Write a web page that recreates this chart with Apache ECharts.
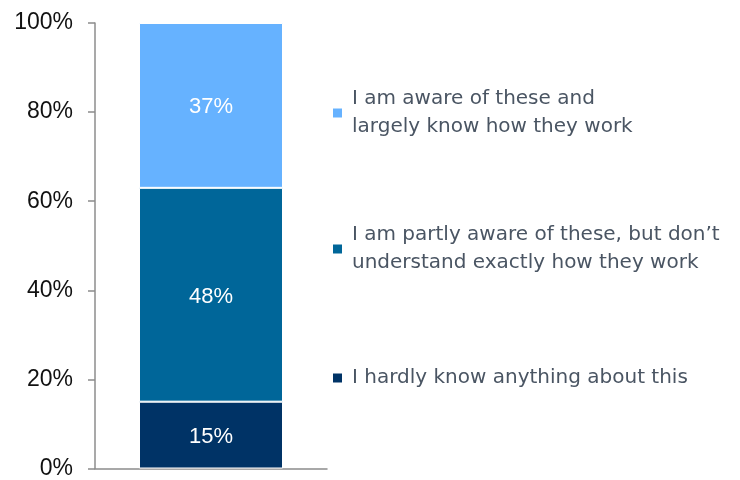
<!DOCTYPE html>
<html><head><meta charset="utf-8">
<script src="https://cdn.jsdelivr.net/npm/echarts@6/dist/echarts.min.js"></script>
<style>html,body{margin:0;padding:0;background:#fff}#c{width:740px;height:480px}</style>
</head><body><div id="c"></div>
<script>
const categories = [''];
const seriesNames = [
  'I hardly know anything about this',
  'I am partly aware of these, but don\u2019t\nunderstand exactly how they work',
  'I am aware of these and\nlargely know how they work'
];
const hardlyValues = [15];
const partlyValues = [48];
const awareValues = [37];
const colors = ['#003366', '#006699', '#66B2FF'];
const yTicks = [0, 20, 40, 60, 80, 100];

const chart = echarts.init(document.getElementById('c'));
const valueSets = [hardlyValues, partlyValues, awareValues];
const legendTops = [364, 221, 85];
chart.setOption({
  animation: false,
  grid: { left: 95, top: 23, width: 232, bottom: 10 },
  xAxis: {
    type: 'category', data: categories,
    axisLine: { lineStyle: { color: '#8c8c8c', width: 1.5 } },
    axisTick: { show: false }, axisLabel: { show: false }
  },
  yAxis: {
    type: 'value', min: 0, max: 100, interval: 20,
    axisLine: { show: true, lineStyle: { color: '#8c8c8c', width: 1.5 } },
    axisTick: { show: true, length: 7, lineStyle: { color: '#8c8c8c', width: 1.5 } },
    splitLine: { show: false },
    axisLabel: { formatter: v => yTicks.includes(v) ? v + '%' : '', color: '#111', fontSize: 23, fontFamily: 'Liberation Sans', margin: 22 }
  },
  legend: seriesNames.map((n, i) => ({
    data: [n], left: 333, top: legendTops[i], orient: 'vertical', padding: 0,
    icon: 'rect', itemWidth: 9, itemHeight: 9, itemGap: 0,
    itemStyle: { borderWidth: 0 },
    textStyle: { color: '#4a5563', fontSize: 20, fontFamily: 'DejaVu Sans', lineHeight: 28, padding: [0, 0, 0, 5] },
    selectedMode: false
  })),
  series: seriesNames.map((n, i) => ({
    name: n, type: 'bar', stack: 'total', data: valueSets[i], barWidth: 144,
    itemStyle: { color: colors[i], borderColor: '#fff', borderWidth: 1 },
    label: { show: true, position: 'inside', offset: [0, 2], formatter: '{c}%', color: '#fff', fontSize: 22, fontFamily: 'Liberation Sans' }
  }))
});
</script></body></html>
